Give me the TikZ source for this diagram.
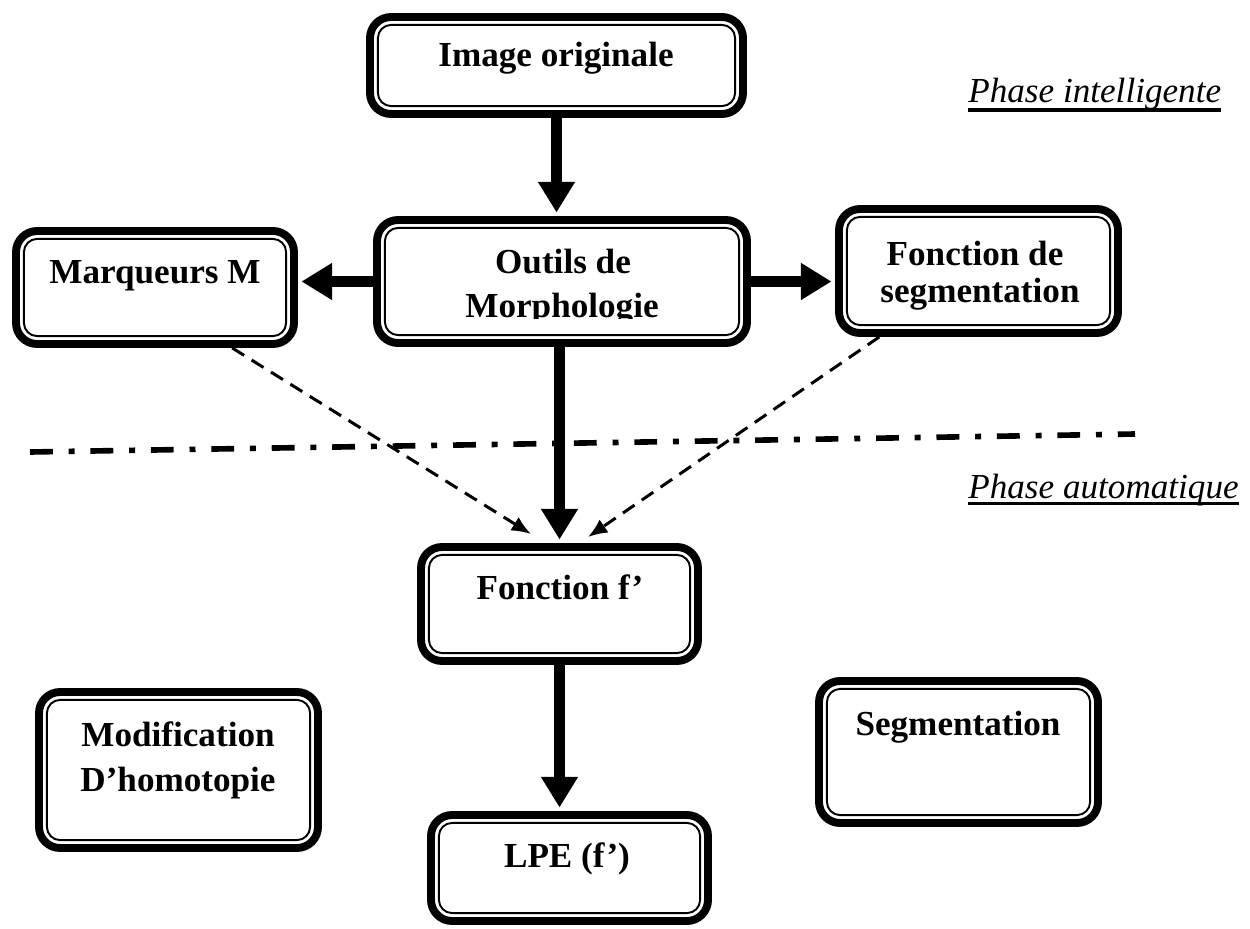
\documentclass[tikz,border=0pt]{standalone}
\usepackage{fontspec}
\setmainfont{Liberation Serif}
\usetikzlibrary{arrows.meta,fit,calc}

\tikzset{
  box/.style={draw, line width=4.5pt, rounded corners=12pt, fill=white, inner sep=0pt,
    path picture={\draw[line width=1.1pt, rounded corners=7.5pt]
      ([shift={(4.5pt,4.5pt)}]path picture bounding box.south west) rectangle
      ([shift={(-4.5pt,-4.5pt)}]path picture bounding box.north east);}},
  boxtext/.style={anchor=base, inner sep=0pt, font=\bfseries\fontsize{20}{24}\selectfont},
  phase/.style={anchor=base west, inner sep=0pt, font=\itshape\fontsize{20}{24}\selectfont},
  bigarrow/.style={line width=6.5pt, -{Triangle[length=17.5pt,width=20pt]}, shorten >=2pt},
  dasharrow/.style={line width=1.7pt, dash pattern=on 8pt off 5pt,
    -{Latex[length=11pt,width=9pt]}},
  separator/.style={line width=3.2pt, dash pattern=on 13pt off 9pt on 3.4pt off 9pt},
  rule/.style={line width=1.8pt}
}

\begin{document}
\begin{tikzpicture}[x=0.02cm, y=-0.02cm]
  \useasboundingbox (0,0) rectangle (1250,929);

  % boxes
  \node[box, fit={(370,17) (743,114)}] (io) {};
  \node[box, fit={(377,220) (747,343)}] (om) {};
  \node[box, fit={(16,231) (294,344)}] (mm) {};
  \node[box, fit={(839,209) (1118,333)}] (fs) {};
  \node[box, fit={(421,547) (698,661)}] (ff) {};
  \node[box, fit={(431,815) (708,921)}] (lpe) {};
  \node[box, fit={(39,692) (318,848)}] (mod) {};
  \node[box, fit={(819,681) (1098,823)}] (seg) {};

  % separator between the two phases
  \coordinate (sepL) at (30,452);
  \coordinate (sepR) at (1135,434);
  \draw[separator] (sepL) -- (sepR);

  % main flow
  \draw[bigarrow] (io.south) -- (io.south |- om.north);
  \draw[bigarrow] (om.west) -- (om.west -| mm.east);
  \draw[bigarrow] (om.east) -- (om.east -| fs.west);
  \draw[bigarrow] (ff.north |- om.south) -- (ff.north);
  \draw[bigarrow] (ff.south) -- (ff.south |- lpe.north);

  % markers and segmentation function feed f'
  \draw[dasharrow] ($(mm.south west)!0.77!(mm.south east)$) --
    ($(ff.north west)!0.40!(ff.north east)+(0,-9)$);
  \draw[dasharrow] ($(fs.south west)!0.154!(fs.south east)$) --
    ($(ff.north west)!0.60!(ff.north east)+(0,-6)$);

  % box labels
  \node[boxtext] (io-t) at (556,67) {Image originale};
  \node[boxtext] (mm-t) at (155,283) {Marqueurs M};
  \begin{scope}
    \clip (380,222) rectangle (745,318);
    \node[boxtext] (om-t1) at (563,273) {Outils de};
    \node[boxtext] (om-t2) at (562,317) {Morphologie};
  \end{scope}
  \begin{scope}
    \clip (842,211) rectangle (1116,309);
    \node[boxtext] (fs-t1) at (975,265) {Fonction de};
    \node[boxtext] (fs-t2) at (980,302) {segmentation};
  \end{scope}
  \node[boxtext] (ff-t) at (560,599) {Fonction f’};
  \node[boxtext] (lpe-t) at (567,867) {LPE (f’)};
  \node[boxtext] (mod-t1) at (178,746) {Modification};
  \node[boxtext] (mod-t2) at (178,791) {D’homotopie};
  \node[boxtext] (seg-t) at (958,735) {Segmentation};

  % phase captions
  \node[phase] (pi) at (968,103) {Phase intelligente};
  \draw[rule] ([yshift=-4pt]pi.base west) -- ([yshift=-4pt]pi.base east);
  \node[phase] (pa) at (968,498) {Phase automatique};
  \draw[rule] ([yshift=-3pt]pa.base west) -- ([yshift=-3pt]pa.base east);
\end{tikzpicture}
\end{document}
